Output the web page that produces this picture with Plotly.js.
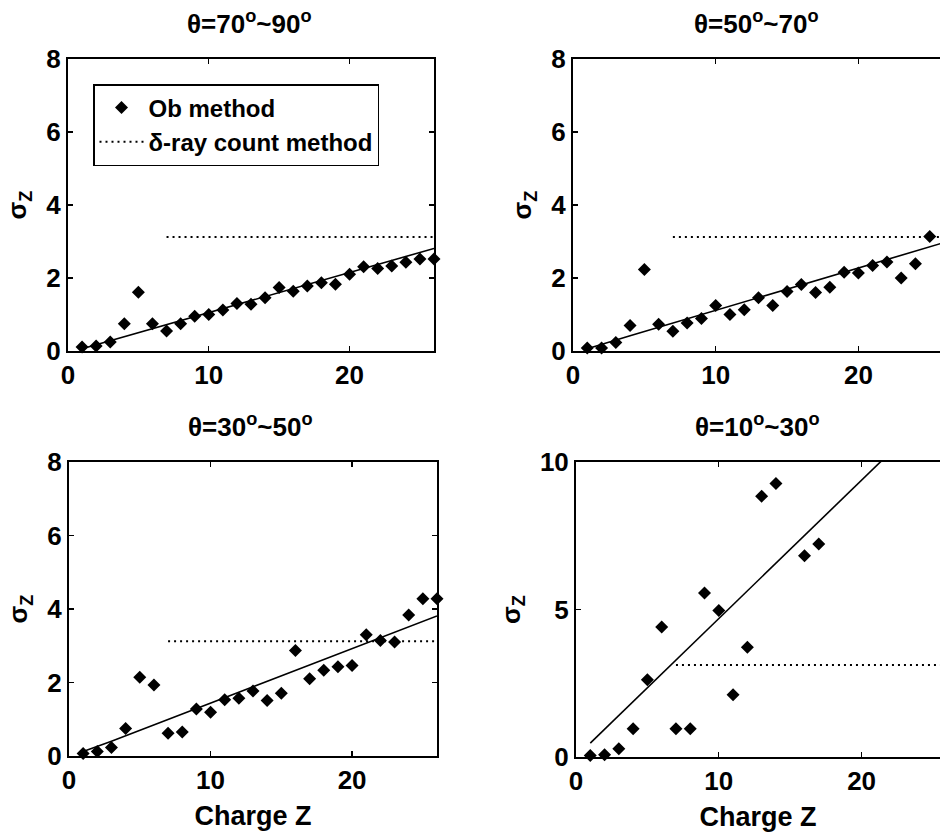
<!DOCTYPE html>
<html>
<head>
<meta charset="utf-8">
<script src="https://cdn.plot.ly/plotly-3.0.1.min.js"></script>
<style>
  html, body { margin: 0; padding: 0; background: #fff; overflow: hidden; }
  #chart { width: 940px; height: 840px; }
</style>
</head>
<body>
<div id="chart"></div>
<script>
// ---- Data ----
const panelTitles = ["θ=70<sup>o</sup>~90<sup>o</sup>", "θ=50<sup>o</sup>~70<sup>o</sup>",
                     "θ=30<sup>o</sup>~50<sup>o</sup>", "θ=10<sup>o</sup>~30<sup>o</sup>"];
const legendNames = ["Ob method", "δ-ray count method"];

const z1 = [1,2,3,4,5,6,7,8,9,10,11,12,13,14,15,16,17,18,19,20,21,22,23,24,25,26];
const sigma1 = [0.11,0.14,0.25,0.75,1.61,0.75,0.55,0.75,0.95,1.00,1.12,1.30,1.28,1.46,1.74,1.64,1.78,1.87,1.83,2.10,2.31,2.26,2.33,2.43,2.52,2.52];
const fitZ1 = [1, 26];
const fitSigma1 = [0.06, 2.81];

const z2 = [1,2,3,4,5,6,7,8,9,10,11,12,13,14,15,16,17,18,19,20,21,22,23,24,25];
const sigma2 = [0.08,0.08,0.23,0.70,2.23,0.73,0.54,0.77,0.89,1.25,1.00,1.13,1.46,1.25,1.63,1.82,1.60,1.75,2.16,2.14,2.34,2.44,2.00,2.39,3.14];
const fitZ2 = [1, 4, 26];
const fitSigma2 = [0.06, 0.42, 2.97];

const z3 = [1,2,3,4,5,6,7,8,9,10,11,12,13,14,15,16,17,18,19,20,21,22,23,24,25,26];
const sigma3 = [0.07,0.12,0.23,0.75,2.14,1.93,0.62,0.65,1.28,1.19,1.53,1.57,1.77,1.51,1.71,2.87,2.10,2.33,2.43,2.46,3.30,3.14,3.10,3.84,4.28,4.28];
const fitZ3 = [1, 3, 26];
const fitSigma3 = [0.12, 0.40, 3.81];

const z4 = [1,2,3,4,5,6,7,8,9,10,11,12,13,14,16,17];
const sigma4 = [0.05,0.08,0.28,0.96,2.62,4.41,0.96,0.96,5.56,4.97,2.11,3.72,8.84,9.27,6.82,7.22];
const fitZ4 = [1, 26];
const fitSigma4 = [0.47, 12.2];

// δ-ray count method level (same in all panels)
const deltaZ = [7, 26];
const deltaSigma = [3.12, 3.12];

const xTicks = [0, 10, 20];
const yTicks8 = [0, 2, 4, 6, 8];
const yTicks10 = [0, 5, 10];

// ---- Build traces ----
const FONT = "Liberation Sans, Arial, Helvetica, sans-serif";
const panels = [
  {z: z1, s: sigma1, fz: fitZ1, fs: fitSigma1, xa: "x",  ya: "y",  legend: true},
  {z: z2, s: sigma2, fz: fitZ2, fs: fitSigma2, xa: "x2", ya: "y2", legend: false},
  {z: z3, s: sigma3, fz: fitZ3, fs: fitSigma3, xa: "x3", ya: "y3", legend: false},
  {z: z4, s: sigma4, fz: fitZ4, fs: fitSigma4, xa: "x4", ya: "y4", legend: false}
];

const traces = [];
panels.forEach(p => {
  traces.push({
    type: "scatter", mode: "markers", x: p.z, y: p.s, xaxis: p.xa, yaxis: p.ya,
    name: legendNames[0], showlegend: p.legend, cliponaxis: false,
    marker: {symbol: "diamond", size: 10, color: "#000"}
  });
  traces.push({
    type: "scatter", mode: "lines", x: deltaZ, y: deltaSigma, xaxis: p.xa, yaxis: p.ya,
    name: legendNames[1], showlegend: p.legend,
    line: {color: "#000", width: 2, dash: "2px,4px"}
  });
  traces.push({
    type: "scatter", mode: "lines", x: p.fz, y: p.fs, xaxis: p.xa, yaxis: p.ya,
    showlegend: false, line: {color: "#000", width: 1.6}
  });
});

// ---- Layout ----
const W = 940, H = 840;
function xd(a, b) { return [a / W, Math.min(b / W, 1)]; }
function yd(top, bottom) { return [1 - bottom / H, 1 - top / H]; }
const tf = (size) => ({family: FONT, size: size, color: "#000", weight: "bold"});

function xAxis(domain, anchor, range, mirror, title) {
  const ax = {
    domain: domain, anchor: anchor, range: range, tickvals: xTicks,
    ticks: "inside", ticklen: 5, tickwidth: 1.4, tickcolor: "#000",
    showline: true, linecolor: "#000", linewidth: 2, mirror: mirror,
    showgrid: false, zeroline: false, fixedrange: true,
    tickfont: tf(26), ticklabelstandoff: 0
  };
  if (title) ax.title = {text: title, font: tf(27), standoff: 12};
  return ax;
}
function yAxis(domain, anchor, range, ticks, mirror) {
  return {
    domain: domain, anchor: anchor, range: range, tickvals: ticks,
    ticks: "inside", ticklen: 5, tickwidth: 1.4, tickcolor: "#000",
    showline: true, linecolor: "#000", linewidth: 2, mirror: mirror,
    showgrid: false, zeroline: false, fixedrange: true,
    tickfont: tf(26), ticklabelstandoff: 0,
    title: {text: "σ<sub>Z</sub>", font: tf(26), standoff: 12}
  };
}

const layout = {
  width: W, height: H,
  margin: {l: 0, r: 0, t: 0, b: 0},
  paper_bgcolor: "#fff", plot_bgcolor: "#fff",
  font: {family: FONT, color: "#000"},
  showlegend: true,
  legend: {
    x: 93 / W, y: 1 - 84 / H, xanchor: "left", yanchor: "top",
    bordercolor: "#000", borderwidth: 1.5, bgcolor: "#fff",
    font: tf(24),
    tracegroupgap: 0, itemwidth: 44
  },
  xaxis:  xAxis(xd(68, 434),  "y",  [0, 26],    "ticks"),
  yaxis:  yAxis(yd(59, 351),  "x",  [0, 8],  yTicks8, "ticks"),
  xaxis2: xAxis(xd(573, 940), "y2", [0, 25.72], "ticks"),
  yaxis2: yAxis(yd(59, 351),  "x2", [0, 8],  yTicks8, false),
  xaxis3: xAxis(xd(69, 437),  "y3", [0, 26],    "ticks", "Charge Z"),
  yaxis3: yAxis(yd(462, 756), "x3", [0, 8],  yTicks8, "ticks"),
  xaxis4: xAxis(xd(576, 940), "y4", [0, 25.49], "ticks", "Charge Z"),
  yaxis4: yAxis(yd(462, 757), "x4", [0, 10], yTicks10, false),
  annotations: [
    {text: panelTitles[0], x: 249 / W, y: 1 - 22 / H},
    {text: panelTitles[1], x: 756 / W, y: 1 - 22 / H},
    {text: panelTitles[2], x: 250 / W, y: 1 - 425 / H},
    {text: panelTitles[3], x: 757 / W, y: 1 - 425 / H}
  ].map(a => Object.assign(a, {
    xref: "paper", yref: "paper", xanchor: "center", yanchor: "middle",
    showarrow: false, font: tf(26)
  }))
};

Plotly.newPlot("chart", traces, layout, {displayModeBar: false, staticPlot: true});
</script>
</body>
</html>
